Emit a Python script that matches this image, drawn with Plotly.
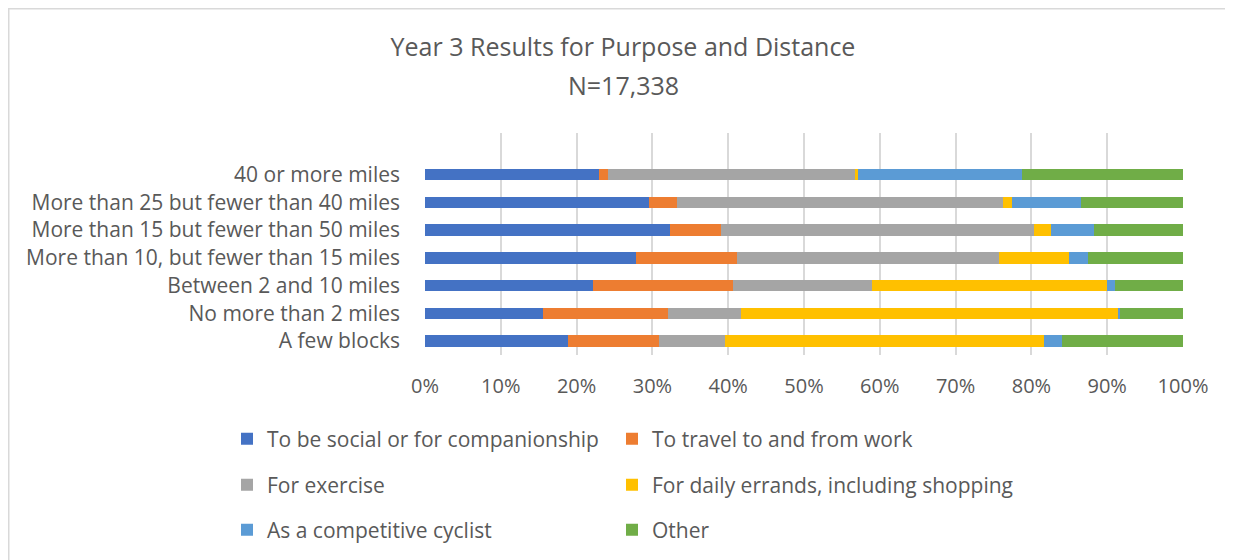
import plotly.graph_objects as go

categories = ["A few blocks", "No more than 2 miles", "Between 2 and 10 miles",
              "More than 10, but fewer than 15 miles", "More than 15 but fewer than 50 miles",
              "More than 25 but fewer than 40 miles", "40 or more miles"]

social      = [18.8, 15.6, 22.1, 27.8, 32.3, 29.5, 23.0]
work        = [12.1, 16.4, 18.5, 13.4,  6.7,  3.7,  1.2]
exercise    = [ 8.7,  9.7, 18.4, 34.5, 41.4, 43.1, 32.5]
errands     = [42.0, 49.7, 31.0,  9.3,  2.2,  1.2,  0.4]
competitive = [ 2.5,  0.3,  1.0,  2.5,  5.6,  9.0, 21.7]
other       = [15.9,  8.3,  9.0, 12.5, 11.8, 13.5, 21.2]

series = [
    ("To be social or for companionship", social, "#4472C4"),
    ("To travel to and from work", work, "#ED7D31"),
    ("For exercise", exercise, "#A5A5A5"),
    ("For daily errands, including shopping", errands, "#FFC000"),
    ("As a competitive cyclist", competitive, "#5B9BD5"),
    ("Other", other, "#70AD47"),
]

FONT = "Open Sans"
GREY = "#595959"
OFF = 8  # page body margin

W, H = 1225, 552
L, R, T, B = 417, 50, 125, 205
pw, ph = W - L - R, H - T - B

def px_x(sx):  # screen px -> paper
    return (sx - OFF - L) / pw

def px_y(sy):
    return (H - B - (sy - OFF)) / ph

leg_cols = [227, 612]
leg_rows = [439, 485, 530]

fig = go.Figure()
legends = {}
for i, (name, vals, color) in enumerate(series):
    key = "legend" if i == 0 else f"legend{i + 1}"
    fig.add_trace(go.Bar(y=categories, x=vals, name=name, orientation="h", showlegend=True,
                         marker=dict(color=color, line=dict(width=0)), legend=key))
    legends[key] = dict(x=px_x(leg_cols[i % 2]), y=px_y(leg_rows[i // 2]),
                        orientation="h", font=dict(family=FONT, size=21, color=GREY),
                        bgcolor="rgba(0,0,0,0)", xanchor="left", yanchor="middle")

fig.update_layout(
    width=W, height=H,
    margin=dict(l=L, r=R, t=T, b=B, autoexpand=False),
    paper_bgcolor="white", plot_bgcolor="white",
    showlegend=True,
    barmode="stack", bargap=0.59,
    font=dict(family=FONT, color=GREY),
    title=dict(text="Year 3 Results for Purpose and Distance",
               x=(623 - OFF) / W, xanchor="center", y=1 - (47 - OFF) / H, yanchor="middle",
               font=dict(family=FONT, size=25, color=GREY)),
    annotations=[dict(text="N=17,338", xref="paper", yref="paper",
                      x=px_x(623), y=px_y(85), xanchor="center", yanchor="middle",
                      showarrow=False, font=dict(family=FONT, size=25, color=GREY))],
    xaxis=dict(range=[0, 100], dtick=10, ticksuffix="%", showgrid=True,
               gridcolor="#d9d9d9", gridwidth=1.5, zeroline=False, showline=False,
               tickfont=dict(family=FONT, size=20, color=GREY), ticks="",
               ticklabelstandoff=17),
    yaxis=dict(type="category", categoryorder="array", categoryarray=categories,
               range=[-0.5, 7.5], showgrid=False, zeroline=False, showline=False,
               tickfont=dict(family=FONT, size=21, color=GREY), ticks="",
               ticklabelstandoff=24),
    shapes=[
        dict(type="line", xref="paper", yref="paper",
             x0=px_x(7), x1=px_x(1300), y0=px_y(8.5), y1=px_y(8.5),
             line=dict(color="#d9d9d9", width=2), layer="below"),
        dict(type="line", xref="paper", yref="paper",
             x0=px_x(8.5), x1=px_x(8.5), y0=px_y(8), y1=px_y(600),
             line=dict(color="#d9d9d9", width=2), layer="below"),
    ],
    **legends,
)

fig.write_html("out.html")
